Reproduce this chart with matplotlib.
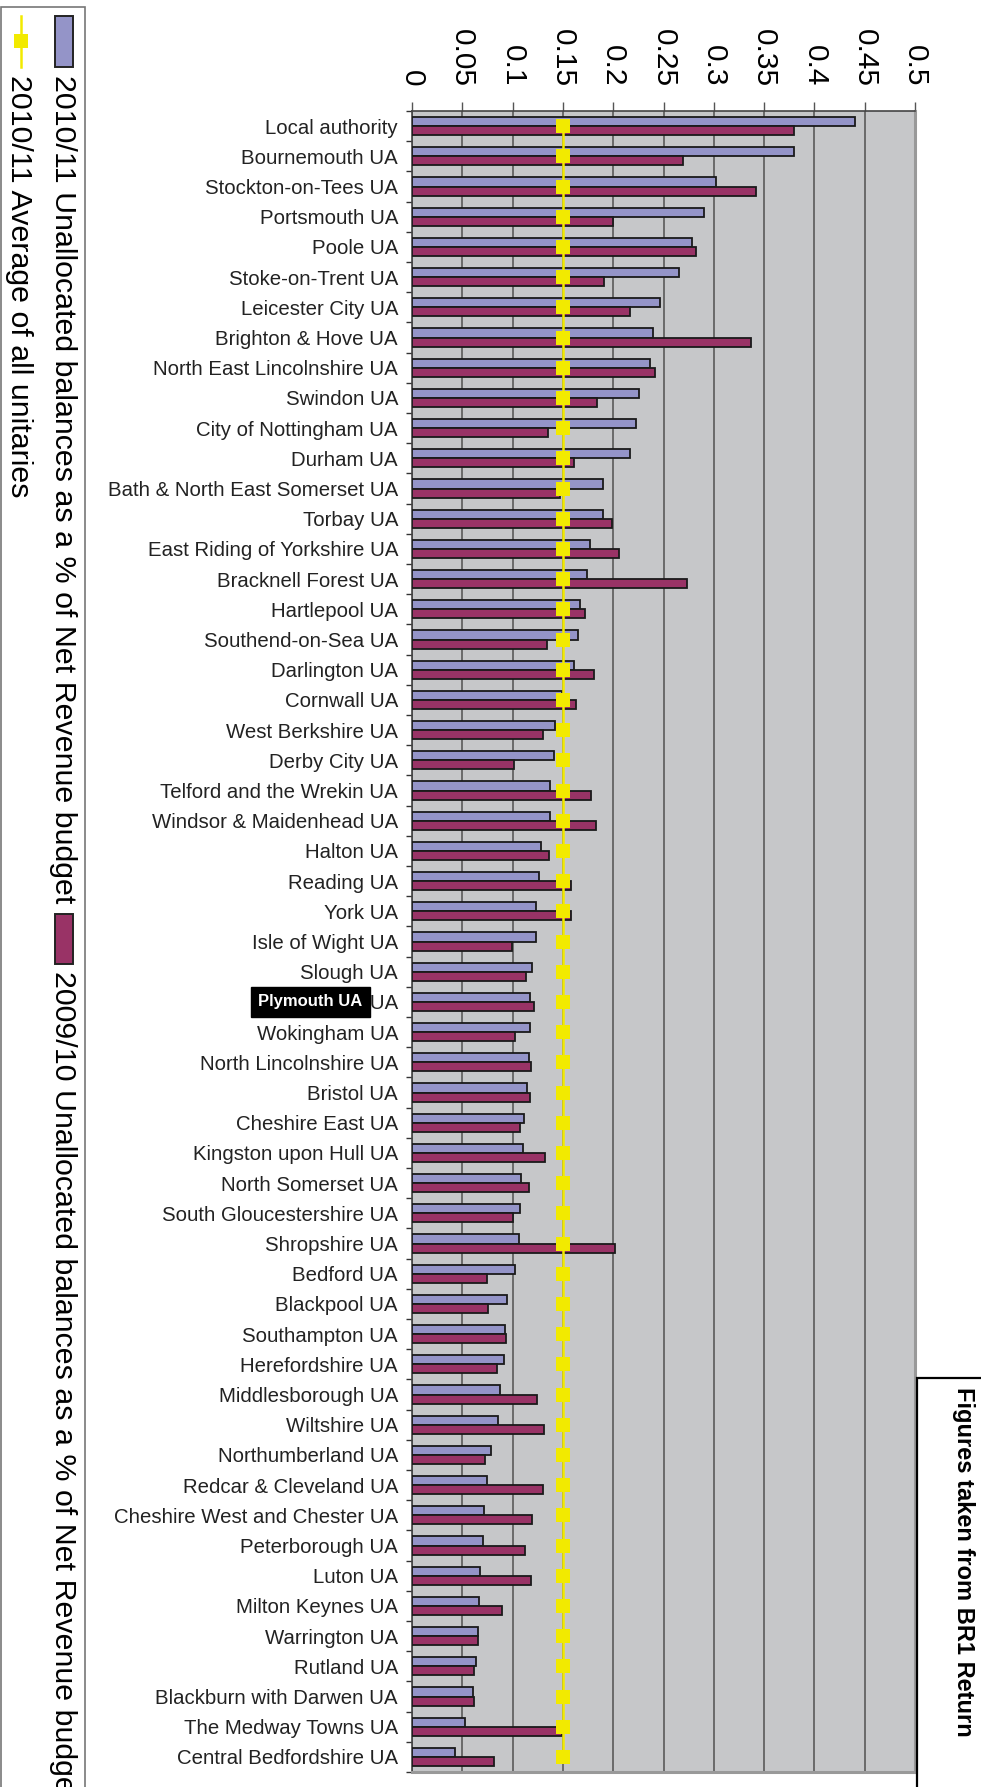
# unallocated balances of unitary authorities - horizontal bar chart, page turned sideways
import matplotlib
matplotlib.use('Agg')
import matplotlib.pyplot as plt
from matplotlib.patches import Rectangle
from matplotlib.lines import Line2D
from matplotlib.transforms import blended_transform_factory
import numpy as np

plt.rcParams['font.family'] = ['Liberation Sans', 'DejaVu Sans']

# data
authorities = ["Local authority", "Bournemouth UA", "Stockton-on-Tees UA", "Portsmouth UA",
               "Poole UA", "Stoke-on-Trent UA", "Leicester City UA", "Brighton & Hove UA",
               "North East Lincolnshire UA", "Swindon UA", "City of Nottingham UA", "Durham UA",
               "Bath & North East Somerset UA", "Torbay UA", "East Riding of Yorkshire UA",
               "Bracknell Forest UA", "Hartlepool UA", "Southend-on-Sea UA", "Darlington UA",
               "Cornwall UA", "West Berkshire UA", "Derby City UA", "Telford and the Wrekin UA",
               "Windsor & Maidenhead UA", "Halton UA", "Reading UA", "York UA", "Isle of Wight UA",
               "Slough UA", "Plymouth UA", "Wokingham UA", "North Lincolnshire UA", "Bristol UA",
               "Cheshire East UA", "Kingston upon Hull UA", "North Somerset UA",
               "South Gloucestershire UA", "Shropshire UA", "Bedford UA", "Blackpool UA",
               "Southampton UA", "Herefordshire UA", "Middlesborough UA", "Wiltshire UA",
               "Northumberland UA", "Redcar & Cleveland UA", "Cheshire West and Chester UA",
               "Peterborough UA", "Luton UA", "Milton Keynes UA", "Warrington UA", "Rutland UA",
               "Blackburn with Darwen UA", "The Medway Towns UA", "Central Bedfordshire UA"]

bal_2010 = [0.440, 0.380, 0.302, 0.290, 0.278, 0.265, 0.247, 0.240, 0.237, 0.226,
            0.223, 0.217, 0.190, 0.190, 0.177, 0.174, 0.167, 0.165, 0.161, 0.149,
            0.142, 0.141, 0.137, 0.137, 0.128, 0.126, 0.123, 0.123, 0.119, 0.117,
            0.117, 0.116, 0.114, 0.111, 0.110, 0.108, 0.107, 0.106, 0.102, 0.094,
            0.092, 0.091, 0.087, 0.085, 0.079, 0.075, 0.072, 0.071, 0.068, 0.067,
            0.066, 0.064, 0.061, 0.053, 0.043]

bal_2009 = [0.380, 0.269, 0.342, 0.200, 0.282, 0.191, 0.217, 0.337, 0.242, 0.184,
            0.135, 0.161, 0.147, 0.199, 0.206, 0.273, 0.172, 0.134, 0.181, 0.163,
            0.130, 0.101, 0.178, 0.183, 0.136, 0.158, 0.158, 0.099, 0.113, 0.121,
            0.102, 0.118, 0.117, 0.107, 0.132, 0.116, 0.100, 0.202, 0.075, 0.076,
            0.093, 0.084, 0.124, 0.131, 0.073, 0.130, 0.119, 0.112, 0.118, 0.089,
            0.066, 0.062, 0.062, 0.149, 0.082]

avg_2010 = 0.15

x_ticks = [0, 0.05, 0.1, 0.15, 0.2, 0.25, 0.3, 0.35, 0.4, 0.45, 0.5]
x_ticklabels = ['0', '0.05', '0.1', '0.15', '0.2', '0.25', '0.3', '0.35', '0.4', '0.45', '0.5']

legend_blue = '2010/11 Unallocated balances as a % of Net Revenue budget'
legend_purple = '2009/10 Unallocated balances as a % of Net Revenue budget'
legend_avg = '2010/11 Average of all unitaries'
source_note = 'Figures taken from BR1 Return'
highlight = 'Plymouth UA'

# colours
c_blue = '#9494C8'
c_purple = '#993366'
c_yellow = '#F2EA00'
c_bg = '#C6C7C9'

W, H = 981, 1787


def fx(x):
    return x / W


def fy(y):
    return 1 - y / H


fig = plt.figure(figsize=(W / 100, H / 100), dpi=100)
ax = fig.add_axes([fx(412), fy(1772), (915 - 412) / W, (1772 - 111) / H])
ax.set_facecolor(c_bg)

n = len(authorities)
y = np.arange(n)
bh = 0.30

ax.barh(y - bh / 2, bal_2010, height=bh, color=c_blue, edgecolor='#1a1a1a', linewidth=1.3, zorder=3)
ax.barh(y + bh / 2, bal_2009, height=bh, color=c_purple, edgecolor='#1a1a1a', linewidth=1.3, zorder=3)
ax.plot([avg_2010] * n, y, '-s', color=c_yellow, lw=1.8, markersize=10.5,
        markeredgewidth=0, zorder=4)

# axes and ticks
ax.set_ylim(n - 0.5, -0.5)
ax.set_xlim(0, 0.5)
ax.set_yticks(y)
ax.set_yticklabels(authorities, fontsize=14.7, color='#222222')
ax.set_yticks(np.arange(n + 1) - 0.5, minor=True)
ax.tick_params(axis='y', which='major', length=0, pad=10)
ax.tick_params(axis='y', which='minor', length=4.5, width=1, color='#333333')

ax.xaxis.tick_top()
ax.set_xticks(x_ticks)
ax.set_xticklabels(x_ticklabels, fontsize=21.5, rotation=-90)
ax.tick_params(axis='x', length=6.5, width=1, color='#555555', pad=11)
ax.grid(axis='x', color='#5a5a5a', lw=1.2, zorder=1)

for s in ['left', 'top']:
    ax.spines[s].set_color('#444444')
    ax.spines[s].set_linewidth(1.2)
for s in ['right', 'bottom']:
    ax.spines[s].set_color('#999999')
    ax.spines[s].set_linewidth(2.2)

# highlighted label
tr = blended_transform_factory(fig.transFigure, ax.transData)
ax.text(fx(258), authorities.index(highlight), highlight, transform=tr, color='white',
        fontsize=12, fontweight='bold', ha='left', va='center',
        bbox=dict(boxstyle='square,pad=0.45', facecolor='black', edgecolor='black'))

# legend drawn by hand, turned sideways
fig.patches.append(Rectangle((fx(1), fy(1800)), fx(84), fy(7) - fy(1800), transform=fig.transFigure,
                             fill=False, edgecolor='#777777', lw=1.2))
fig.patches.append(Rectangle((fx(55), fy(67)), fx(18), fy(16) - fy(67), transform=fig.transFigure,
                             facecolor=c_blue, edgecolor='#222222', lw=1.4))
t1 = fig.text(fx(63), fy(75), legend_blue, rotation=-90, ha='center', va='top', fontsize=21.9)
fig.lines.append(Line2D([fx(21), fx(21)], [fy(16), fy(67)], transform=fig.transFigure,
                        color=c_yellow, lw=1.8))
fig.lines.append(Line2D([fx(21)], [fy(41)], transform=fig.transFigure, marker='s',
                        markersize=10.5, color=c_yellow, markeredgewidth=0))
fig.text(fx(19), fy(75), legend_avg, rotation=-90, ha='center', va='top', fontsize=21.9)

fig.canvas.draw()
bb = t1.get_window_extent()
end_px = H - bb.y0
fig.patches.append(Rectangle((fx(55), fy(end_px + 61)), fx(18), fy(end_px + 11) - fy(end_px + 61),
                             transform=fig.transFigure, facecolor=c_purple, edgecolor='#222222', lw=1.4))
fig.text(fx(63), fy(end_px + 68), legend_purple, rotation=-90, ha='center', va='top', fontsize=21.9)

# source note box
fig.patches.append(Rectangle((fx(917), fy(1800)), fx(80), fy(1378) - fy(1800), transform=fig.transFigure,
                             facecolor='white', edgecolor='black', lw=1.6))
fig.text(fx(963), fy(1387), source_note, rotation=-90, ha='center', va='top', fontsize=17,
         fontweight='bold')

plt.savefig('out.png', dpi=100)
